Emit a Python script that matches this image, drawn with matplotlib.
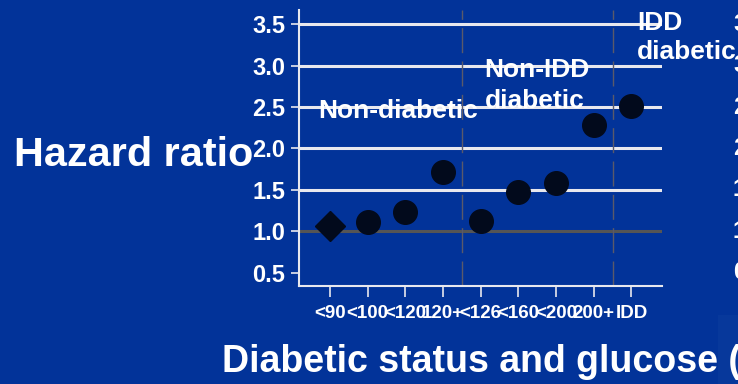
import matplotlib
matplotlib.use("Agg")
import matplotlib.pyplot as plt
from matplotlib.patches import Rectangle

# Glucose / diabetic-status groups and their hazard ratios
categories = ["<90", "<100", "<120", "120+", "<126", "<160", "<200", "200+", "IDD"]
hazard_ratio = [1.07, 1.12, 1.24, 1.72, 1.13, 1.48, 1.59, 2.28, 2.51]
y_ticks = [0.5, 1.0, 1.5, 2.0, 2.5, 3.0, 3.5]
y_tick_labels = ["0.5", "1.0", "1.5", "2.0", "2.5", "3.0", "3.5"]
grid_levels = [1.5, 2.0, 2.5, 3.0, 3.5]
reference_level = 1.0
group_breaks = [3.5, 7.5]

BG = "#023399"
FG = "white"
MARK = "#020a1c"
plt.rcParams["font.family"] = ["Liberation Sans", "DejaVu Sans"]
plt.rcParams["font.weight"] = "bold"

W, H = 738, 384
fig = plt.figure(figsize=(W / 100, H / 100), dpi=100, facecolor=BG)

# faint lighter panel in the lower-right corner
fig.add_artist(Rectangle((718 / W, 0), 1 - 718 / W, 1 - 315 / H,
                         transform=fig.transFigure, facecolor="#07389b",
                         edgecolor="none", zorder=0))

ax = fig.add_axes([299 / W, 1 - 286 / H, (662 - 299) / W, (286 - 10) / H])
ax.set_facecolor("none")

x = list(range(len(categories)))
ax.set_xlim(-0.82, 8.81)
ax.set_ylim(0.343, 3.669)

# horizontal reference lines
ax.hlines(grid_levels, -0.82, 8.81, colors="#e8e8ee", linewidth=2.2, zorder=1)
ax.hlines([reference_level], -0.82, 8.81, colors="#555555", linewidth=2.2, zorder=1)

# dashed separators between diabetic-status groups
for xb in group_breaks:
    ax.axvline(xb, color="#5a5a6a", linewidth=1.0, linestyle=(0, (18, 6)), zorder=1)

# non-diabetic reference group drawn as a diamond, others as circles
ax.plot(x[:1], hazard_ratio[:1], linestyle="none", marker="D", markersize=15,
        color=MARK, zorder=3)
ax.plot(x[1:], hazard_ratio[1:], linestyle="none", marker="o", markersize=17,
        color=MARK, zorder=3)

for s in ["top", "right"]:
    ax.spines[s].set_visible(False)
for s in ["left", "bottom"]:
    ax.spines[s].set_color("#e8e8ee")
    ax.spines[s].set_linewidth(1.5)

ax.set_xticks(x)
ax.set_xticklabels(categories, fontsize=13.5, fontweight="bold", color=FG)
ax.set_yticks(y_ticks)
ax.set_yticklabels(y_tick_labels, fontsize=17, fontweight="bold", color=FG)
ax.tick_params(axis="x", colors="#e8e8ee", length=8, width=1.2, pad=6,
               labelcolor=FG)
ax.tick_params(axis="y", colors="#e8e8ee", length=6, width=1.2, pad=4,
               labelcolor=FG)

# group labels
ax.text(1.82, 2.45, "Non-diabetic", fontsize=19, fontweight="bold", color=FG,
        ha="center", va="center", zorder=4)
ax.text(4.1, 2.76, "Non-IDD\ndiabetic", fontsize=19, fontweight="bold", color=FG,
        ha="left", va="center", linespacing=1.36, zorder=4)
ax.text(8.15, 3.34, "IDD\ndiabetic", fontsize=19, fontweight="bold", color=FG,
        ha="left", va="center", linespacing=1.28, zorder=4, clip_on=False)

# duplicate tick labels running off the right edge
for yv, lab in zip(y_ticks, y_tick_labels):
    ax.annotate(lab, xy=(733 / W, yv), xycoords=("figure fraction", "data"),
                fontsize=17, fontweight="bold", color=FG, ha="left", va="center",
                annotation_clip=False)

fig.text(14 / W, 1 - 155 / H, "Hazard ratio", fontsize=29.8, fontweight="bold",
         color=FG, ha="left", va="center")
fig.text(222 / W, 1 - 362 / H, "Diabetic status and glucose (mg/dl)", fontsize=27,
         fontweight="bold", color=FG, ha="left", va="center")

fig.savefig("out.png", dpi=100, facecolor=BG)
